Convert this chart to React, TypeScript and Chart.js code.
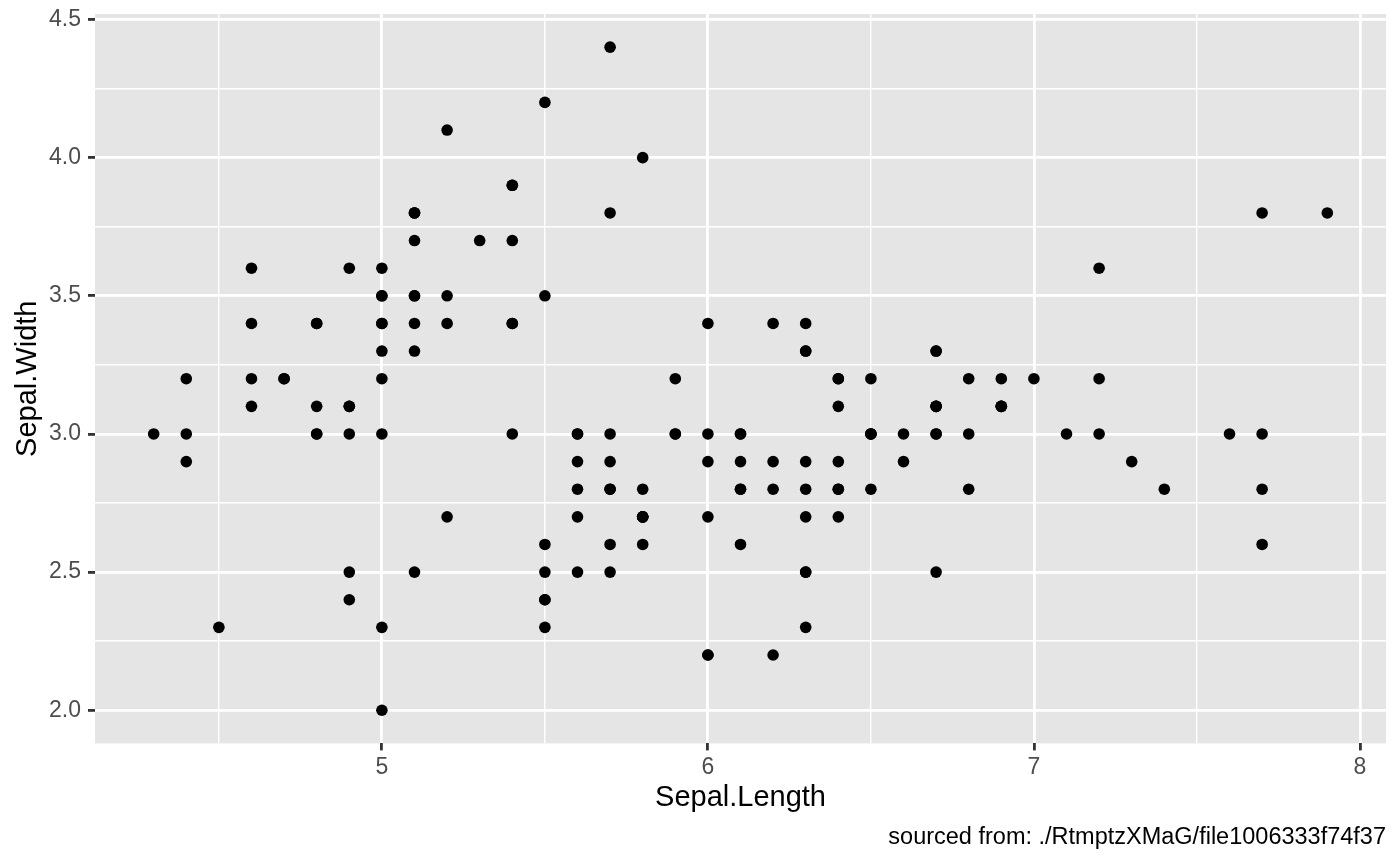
import React, { useEffect, useRef } from 'react';
import { Chart, registerables } from 'chart.js';

Chart.register(...registerables);

// Iris: Sepal.Length vs Sepal.Width (150 observations)
const sepalLength: number[] = [
  5.1, 4.9, 4.7, 4.6, 5.0, 5.4, 4.6, 5.0, 4.4, 4.9, 5.4, 4.8, 4.8, 4.3, 5.8, 5.7, 5.4, 5.1, 5.7, 5.1,
  5.4, 5.1, 4.6, 5.1, 4.8, 5.0, 5.0, 5.2, 5.2, 4.7, 4.8, 5.4, 5.2, 5.5, 4.9, 5.0, 5.5, 4.9, 4.4, 5.1,
  5.0, 4.5, 4.4, 5.0, 5.1, 4.8, 5.1, 4.6, 5.3, 5.0,
  7.0, 6.4, 6.9, 5.5, 6.5, 5.7, 6.3, 4.9, 6.6, 5.2, 5.0, 5.9, 6.0, 6.1, 5.6, 6.7, 5.6, 5.8, 6.2, 5.6,
  5.9, 6.1, 6.3, 6.1, 6.4, 6.6, 6.8, 6.7, 6.0, 5.7, 5.5, 5.5, 5.8, 6.0, 5.4, 6.0, 6.7, 6.3, 5.6, 5.5,
  5.5, 6.1, 5.8, 5.0, 5.6, 5.7, 5.7, 6.2, 5.1, 5.7,
  6.3, 5.8, 7.1, 6.3, 6.5, 7.6, 4.9, 7.3, 6.7, 7.2, 6.5, 6.4, 6.8, 5.7, 5.8, 6.4, 6.5, 7.7, 7.7, 6.0,
  6.9, 5.6, 7.7, 6.3, 6.7, 7.2, 6.2, 6.1, 6.4, 7.2, 7.4, 7.9, 6.4, 6.3, 6.1, 7.7, 6.3, 6.4, 6.0, 6.9,
  6.7, 6.9, 5.8, 6.8, 6.7, 6.7, 6.3, 6.5, 6.2, 5.9,
];

const sepalWidth: number[] = [
  3.5, 3.0, 3.2, 3.1, 3.6, 3.9, 3.4, 3.4, 2.9, 3.1, 3.7, 3.4, 3.0, 3.0, 4.0, 4.4, 3.9, 3.5, 3.8, 3.8,
  3.4, 3.7, 3.6, 3.3, 3.4, 3.0, 3.4, 3.5, 3.4, 3.2, 3.1, 3.4, 4.1, 4.2, 3.1, 3.2, 3.5, 3.6, 3.0, 3.4,
  3.5, 2.3, 3.2, 3.5, 3.8, 3.0, 3.8, 3.2, 3.7, 3.3,
  3.2, 3.2, 3.1, 2.3, 2.8, 2.8, 3.3, 2.4, 2.9, 2.7, 2.0, 3.0, 2.2, 2.9, 2.9, 3.1, 3.0, 2.7, 2.2, 2.5,
  3.2, 2.8, 2.5, 2.8, 2.9, 3.0, 2.8, 3.0, 2.9, 2.6, 2.4, 2.4, 2.7, 2.7, 3.0, 3.4, 3.1, 2.3, 3.0, 2.5,
  2.6, 3.0, 2.6, 2.3, 2.7, 3.0, 2.9, 2.9, 2.5, 2.8,
  3.3, 2.7, 3.0, 2.9, 3.0, 3.0, 2.5, 2.9, 2.5, 3.6, 3.2, 2.7, 3.0, 2.5, 2.8, 3.2, 3.0, 3.8, 2.6, 2.2,
  3.2, 2.8, 2.8, 2.7, 3.3, 3.2, 2.8, 3.0, 2.8, 3.0, 2.8, 3.8, 2.8, 2.8, 2.6, 3.0, 3.4, 3.1, 3.0, 3.1,
  3.1, 3.1, 2.7, 3.2, 3.3, 3.0, 2.5, 3.0, 3.4, 3.0,
];

const xTickValues: number[] = [4.5, 5, 5.5, 6, 6.5, 7, 7.5, 8];
const yTickValues: number[] = [2, 2.25, 2.5, 2.75, 3, 3.25, 3.5, 3.75, 4, 4.25, 4.5];

const xTitle = 'Sepal.Length';
const yTitle = 'Sepal.Width';
const caption = 'sourced from: ./RtmptzXMaG/file1006333f74f37';

const FONT = '"Liberation Sans", Arial, Helvetica, sans-serif';

const isXMajor = (v: number) => Math.abs(v - Math.round(v)) < 1e-6;
const isYMajor = (v: number) => Math.abs(v * 2 - Math.round(v * 2)) < 1e-6;

const expand = (arr: number[]) => {
  const lo = Math.min(...arr);
  const hi = Math.max(...arr);
  const pad = (hi - lo) * 0.05;
  return [lo - pad, hi + pad];
};

const panelBg = {
  id: 'panelBg',
  beforeDraw(chart: any) {
    const { ctx, chartArea } = chart;
    ctx.save();
    ctx.fillStyle = '#E5E5E5';
    ctx.fillRect(chartArea.left, chartArea.top, chartArea.right - chartArea.left, chartArea.bottom - chartArea.top);
    ctx.restore();
  },
};

export default function App() {
  const ref = useRef<HTMLCanvasElement | null>(null);

  useEffect(() => {
    if (!ref.current) return;
    const [xMin, xMax] = expand(sepalLength);
    const [yMin, yMax] = expand(sepalWidth);
    const points = sepalLength.map((x, i) => ({ x, y: sepalWidth[i] }));

    const chart = new Chart(ref.current, {
      type: 'scatter',
      data: {
        datasets: [
          {
            data: points,
            backgroundColor: '#000000',
            borderWidth: 0,
            pointRadius: 5.8,
            pointHoverRadius: 5.8,
          },
        ],
      },
      plugins: [panelBg],
      options: {
        animation: false,
        responsive: false,
        events: [],
        layout: { padding: { top: 14, right: 14, left: 0, bottom: 0 } },
        plugins: {
          legend: { display: false },
          tooltip: { enabled: false },
          title: {
            display: true,
            text: caption,
            position: 'bottom',
            align: 'end',
            color: '#000000',
            font: { family: FONT, size: 23.5, weight: 'normal' },
            padding: { top: 0, bottom: 13.2 },
          },
        },
        scales: {
          x: {
            type: 'linear',
            min: xMin,
            max: xMax,
            afterBuildTicks: (scale: any) => {
              scale.ticks = xTickValues.map((v) => ({ value: v }));
            },
            afterFit: (scale: any) => {
              scale.height = 80.2;
              scale.paddingLeft = 0;
              scale.paddingRight = 0;
            },
            border: { display: false },
            grid: {
              color: '#FFFFFF',
              lineWidth: (c: any) => (isXMajor(c.tick.value) ? 2.8 : 1.4),
              drawTicks: true,
              tickLength: 7,
              tickWidth: 2.8,
              tickColor: (c: any) => (isXMajor(c.tick.value) ? '#333333' : 'rgba(0,0,0,0)'),
            },
            ticks: {
              autoSkip: false,
              maxRotation: 0,
              padding: 3,
              color: '#4D4D4D',
              font: { family: FONT, size: 23 },
              callback: (v: any) => (isXMajor(Number(v)) ? String(Math.round(Number(v))) : ''),
            },
            title: {
              display: true,
              text: xTitle,
              color: '#000000',
              font: { family: FONT, size: 29 },
              padding: { top: 0, bottom: 7.8 },
            },
          },
          y: {
            type: 'linear',
            min: yMin,
            max: yMax,
            afterBuildTicks: (scale: any) => {
              scale.ticks = yTickValues.map((v) => ({ value: v }));
            },
            afterFit: (scale: any) => {
              scale.width = 95;
              scale.paddingTop = 0;
              scale.paddingBottom = 0;
            },
            border: { display: false },
            grid: {
              color: '#FFFFFF',
              lineWidth: (c: any) => (isYMajor(c.tick.value) ? 2.8 : 1.4),
              drawTicks: true,
              tickLength: 7,
              tickWidth: 2.8,
              tickColor: (c: any) => (isYMajor(c.tick.value) ? '#333333' : 'rgba(0,0,0,0)'),
            },
            ticks: {
              autoSkip: false,
              padding: 7,
              color: '#4D4D4D',
              font: { family: FONT, size: 23 },
              callback: (v: any) => (isYMajor(Number(v)) ? Number(v).toFixed(1) : ''),
            },
            title: {
              display: true,
              text: yTitle,
              color: '#000000',
              font: { family: FONT, size: 29 },
              padding: { top: 10.5, bottom: 0 },
            },
          },
        },
      },
    } as any);

    return () => chart.destroy();
  }, []);

  return (
    <div style={{ position: 'fixed', left: 0, top: 0, width: 1400, height: 865, background: '#FFFFFF' }}>
      <canvas ref={ref} width={1400} height={865} style={{ width: 1400, height: 865, display: 'block' }} />
    </div>
  );
}
